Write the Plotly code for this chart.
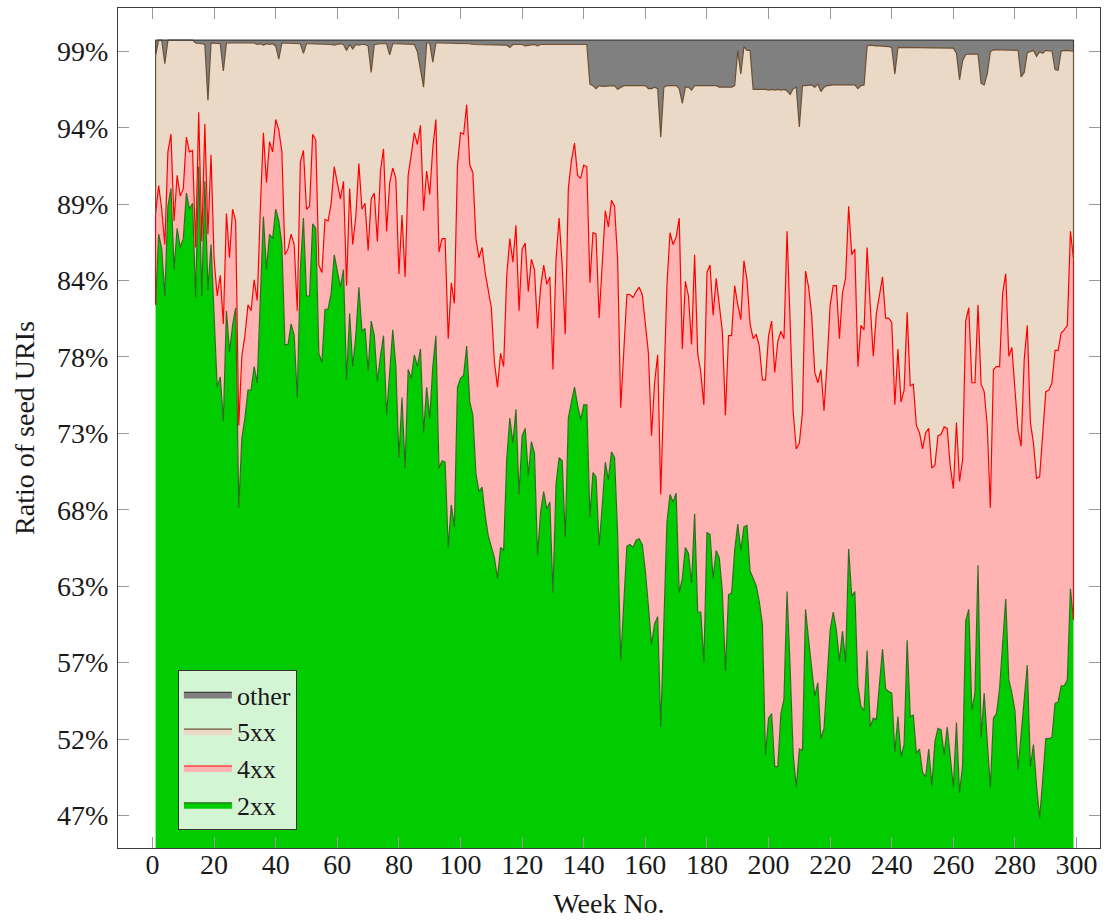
import plotly.graph_objects as go

# ---------------- data (percent of seed URIs, cumulative stack boundaries) ----------------
weeks = list(range(1, 300))

top_2xx = [
    82.0, 86.8, 85.8, 82.6, 88.7, 89.9, 84.4, 87.2, 85.9, 86.5,
    89.6, 88.5, 88.9, 82.5, 91.4, 82.6, 90.4, 83.0, 86.1, 80.6,
    76.4, 77.1, 74.1, 81.6, 78.8, 80.6, 81.8, 68.2, 72.9, 74.3,
    76.2, 76.2, 77.8, 76.7, 82.3, 88.0, 84.4, 86.8, 86.5, 88.5,
    87.7, 86.1, 79.3, 79.3, 80.7, 79.9, 75.7, 84.4, 87.9, 82.6,
    82.6, 87.5, 87.2, 78.7, 78.1, 81.7, 81.7, 82.8, 85.4, 84.4,
    83.2, 84.4, 76.9, 81.4, 77.8, 79.9, 83.2, 80.2, 80.4, 77.5,
    80.9, 79.9, 76.8, 78.5, 79.9, 74.5, 77.8, 80.3, 77.8, 71.6,
    75.7, 70.9, 77.6, 77.0, 78.6, 77.8, 79.0, 73.3, 76.4, 74.3,
    77.8, 79.9, 70.9, 71.4, 71.3, 65.5, 68.4, 66.9, 76.4, 77.0,
    77.2, 79.2, 75.4, 74.5, 70.5, 69.3, 69.6, 67.7, 66.3, 65.6,
    64.8, 63.4, 65.5, 65.3, 71.5, 74.3, 72.6, 74.9, 69.1, 73.1,
    73.6, 70.4, 72.7, 71.9, 65.0, 67.9, 69.3, 68.1, 68.6, 62.4,
    69.8, 71.6, 71.4, 66.2, 74.3, 75.4, 76.4, 75.2, 74.2, 75.2,
    75.2, 67.6, 70.6, 70.3, 65.6, 68.3, 71.3, 70.1, 72.0, 71.6,
    66.5, 57.8, 61.5, 65.6, 65.7, 65.5, 66.0, 66.1, 65.7, 63.9,
    61.5, 58.9, 60.3, 60.8, 53.3, 59.9, 67.2, 69.1, 68.6, 69.2,
    62.4, 63.4, 65.5, 65.1, 63.1, 67.8, 61.1, 61.1, 57.7, 66.5,
    66.4, 63.4, 65.3, 64.8, 62.5, 57.1, 62.3, 62.4, 65.3, 67.1,
    65.3, 66.9, 67.0, 63.9, 63.4, 62.9, 61.8, 60.3, 51.4, 53.9,
    54.2, 50.6, 50.6, 54.2, 55.2, 62.5, 57.3, 51.4, 49.2, 51.8,
    51.7, 61.3, 59.2, 57.5, 55.4, 56.3, 52.5, 53.2, 57.0, 59.9,
    61.1, 59.9, 57.8, 59.8, 57.7, 65.4, 62.2, 62.5, 56.1, 54.7,
    54.4, 58.5, 53.3, 53.9, 53.8, 56.1, 58.6, 55.9, 55.7, 55.6,
    51.6, 54.0, 51.3, 52.1, 59.2, 54.0, 54.1, 51.5, 51.8, 50.2,
    49.9, 51.8, 49.3, 52.3, 53.2, 53.1, 51.4, 53.3, 51.4, 49.2,
    53.6, 48.8, 50.7, 60.5, 61.3, 54.4, 55.6, 64.3, 52.6, 55.6,
    52.3, 49.2, 53.9, 54.2, 55.9, 59.1, 62.0, 56.5, 55.6, 54.4,
    50.4, 52.8, 54.9, 57.5, 50.6, 52.1, 49.3, 47.1, 49.7, 52.5,
    52.5, 52.6, 54.9, 55.0, 56.1, 56.1, 56.5, 62.7, 60.6,
]

top_4xx = [
    88.2, 90.1, 88.5, 86.1, 92.4, 93.6, 87.7, 90.8, 89.4, 89.9,
    93.4, 92.4, 92.5, 85.9, 95.1, 86.3, 94.3, 86.8, 92.2, 85.1,
    82.6, 84.0, 80.7, 88.2, 85.2, 88.5, 87.7, 73.8, 78.5, 79.9,
    82.0, 81.6, 83.7, 82.3, 88.5, 93.7, 90.3, 93.1, 92.4, 94.6,
    93.9, 92.4, 85.4, 85.8, 86.8, 86.1, 81.6, 91.7, 92.5, 88.5,
    88.7, 93.6, 93.2, 84.7, 84.2, 87.8, 87.7, 88.9, 91.4, 90.3,
    89.2, 90.4, 83.3, 89.9, 86.1, 88.0, 91.6, 88.5, 88.9, 85.7,
    89.2, 89.6, 86.3, 91.1, 92.6, 87.0, 90.3, 91.3, 90.6, 84.1,
    88.1, 83.9, 90.8, 92.2, 93.7, 92.9, 94.2, 88.4, 91.1, 89.5,
    92.7, 94.6, 85.6, 86.5, 86.5, 79.7, 83.5, 82.1, 91.5, 93.7,
    93.6, 95.6, 91.5, 91.0, 86.5, 85.2, 85.9, 84.2, 83.0, 81.8,
    78.1, 76.4, 78.7, 77.8, 84.0, 86.5, 84.9, 87.4, 81.6, 85.8,
    86.2, 82.9, 85.1, 84.4, 80.4, 83.2, 84.7, 83.4, 83.9, 77.6,
    85.1, 87.9, 84.7, 80.0, 89.9, 91.8, 93.0, 90.8, 90.6, 91.5,
    91.4, 83.5, 86.9, 86.8, 81.1, 85.1, 88.4, 87.3, 89.1, 88.7,
    85.1, 75.0, 79.2, 82.7, 82.7, 82.5, 82.9, 83.2, 82.7, 80.9,
    78.7, 73.1, 76.7, 78.6, 69.1, 76.2, 83.3, 86.9, 86.1, 86.6,
    87.9, 79.0, 83.6, 82.6, 79.3, 85.4, 78.7, 77.4, 75.2, 84.2,
    84.7, 81.3, 83.8, 82.0, 80.2, 74.5, 79.9, 79.9, 83.3, 82.0,
    81.0, 85.0, 83.7, 80.7, 79.7, 80.0, 79.2, 76.9, 76.9, 79.9,
    80.9, 77.4, 79.5, 80.2, 79.7, 87.0, 81.3, 74.7, 72.2, 72.6,
    74.7, 84.3, 83.2, 81.3, 77.4, 76.7, 77.6, 74.8, 78.1, 82.0,
    83.3, 83.3, 79.7, 82.8, 83.8, 88.7, 85.4, 85.8, 77.8, 80.6,
    80.3, 85.9, 82.0, 78.5, 81.4, 82.6, 83.9, 81.1, 81.1, 80.8,
    75.2, 79.0, 75.4, 76.2, 81.5, 76.5, 76.6, 73.8, 73.3, 72.2,
    73.3, 73.6, 70.9, 71.1, 73.1, 73.2, 73.7, 73.6, 71.0, 69.5,
    74.0, 70.0, 71.5, 80.9, 81.8, 76.7, 76.7, 82.0, 76.6, 76.1,
    73.8, 68.2, 77.6, 77.8, 77.8, 82.8, 84.1, 78.5, 79.1, 76.2,
    73.5, 72.4, 78.3, 80.6, 74.0, 72.6, 70.2, 70.3, 73.3, 76.1,
    76.2, 76.7, 78.9, 78.9, 80.1, 80.3, 80.6, 87.0, 85.1,
]

top_5xx = [
    99.0, 100.0, 100.0, 98.4, 100.0, 100.0, 100.0, 100.0, 100.0, 100.0,
    100.0, 100.0, 100.0, 99.8, 99.8, 99.75, 99.7, 95.9, 99.8, 99.8,
    99.8, 99.75, 97.9, 99.8, 99.8, 99.8, 99.8, 99.8, 99.8, 99.8,
    99.8, 99.8, 99.8, 99.7, 99.75, 99.65, 99.75, 99.7, 99.75, 99.6,
    98.7, 99.8, 99.8, 99.8, 99.8, 99.8, 99.8, 99.75, 99.1, 99.75,
    99.75, 99.75, 99.75, 99.75, 99.7, 99.7, 99.75, 99.7, 99.65, 99.7,
    99.75, 99.7, 99.3, 99.7, 99.4, 99.7, 99.65, 99.7, 99.7, 99.6,
    97.8, 99.7, 99.75, 99.75, 99.75, 99.75, 99.0, 99.75, 99.75, 99.75,
    99.75, 99.75, 99.75, 99.75, 99.7, 99.2, 98.0, 96.8, 99.8, 99.8,
    98.5, 99.8, 99.8, 99.8, 99.8, 99.8, 99.8, 99.75, 99.75, 99.75,
    99.75, 99.75, 99.75, 99.7, 99.7, 99.7, 99.7, 99.7, 99.7, 99.7,
    99.7, 99.7, 99.7, 99.7, 99.65, 99.5, 99.7, 99.7, 99.7, 99.7,
    99.6, 99.65, 99.7, 99.7, 99.6, 99.7, 99.7, 99.7, 99.7, 99.7,
    99.7, 99.7, 99.7, 99.7, 99.7, 99.7, 99.75, 99.75, 99.75, 99.75,
    99.7, 97.0, 96.9, 96.7, 96.9, 96.85, 96.85, 96.85, 96.85, 96.9,
    96.65, 96.8, 96.9, 96.9, 96.9, 96.9, 96.9, 96.9, 96.9, 96.9,
    96.7, 96.7, 96.8, 96.7, 93.4, 96.8, 96.9, 96.9, 96.9, 96.9,
    96.7, 95.7, 96.8, 96.8, 96.6, 96.9, 96.9, 96.9, 96.9, 96.9,
    96.9, 96.9, 96.9, 96.8, 96.8, 96.8, 96.8, 96.8, 96.9, 99.3,
    97.7, 99.55, 99.3, 99.3, 96.65, 96.65, 96.7, 96.7, 96.65, 96.6,
    96.65, 96.6, 96.65, 96.6, 96.65, 96.55, 96.3, 96.7, 96.8, 94.1,
    96.9, 96.9, 96.95, 96.95, 96.8, 97.0, 96.5, 96.8, 96.9, 96.95,
    96.95, 96.95, 96.95, 96.95, 96.95, 96.95, 96.95, 96.95, 96.7, 96.9,
    96.95, 99.6, 99.65, 99.6, 99.6, 99.6, 99.6, 99.6, 99.55, 99.5,
    97.7, 99.5, 99.5, 99.5, 99.5, 99.5, 99.5, 99.5, 99.5, 99.5,
    99.5, 99.5, 99.5, 99.5, 99.5, 99.5, 99.5, 99.5, 99.5, 99.45,
    99.1, 97.3, 98.6, 99.0, 99.05, 99.05, 99.05, 99.05, 97.05, 96.95,
    97.7, 99.2, 99.35, 99.35, 99.35, 99.35, 99.35, 99.35, 99.3, 99.3,
    99.3, 97.5, 97.8, 99.15, 99.2, 99.3, 98.9, 99.2, 99.1, 99.3,
    99.27, 99.27, 98.0, 97.95, 99.27, 99.3, 99.3, 99.27, 99.25,
]

total = 100.0
top_other = [total] * len(weeks)

series_names = ["2xx", "4xx", "5xx", "other"]

ytick_values = [47.28, 52.48, 57.67, 62.87, 68.06, 73.26, 78.46, 83.65, 88.85, 94.04, 99.24]
ytick_labels = ["47%", "52%", "57%", "63%", "68%", "73%", "78%", "84%", "89%", "94%", "99%"]
xtick_values = list(range(0, 301, 20))

# ---------------- styles ----------------
FONT = "Liberation Serif"
fills = ["#00cc00", "#ffb3b3", "#ead9c6", "#808080"]
lines = ["#2d6e1e", "#ff0000", "#6e5030", "#404040"]

fig = go.Figure()
tops = [top_2xx, top_4xx, top_5xx, top_other]
for i, (name, ys) in enumerate(zip(series_names, tops)):
    fig.add_trace(go.Scatter(
        x=weeks, y=ys, name=name, mode="lines",
        line=dict(color=lines[i], width=1.2),
        fill="tozeroy" if i == 0 else "tonexty",
        fillcolor=fills[i],
        legendgroup=name,
    ))

# closing vertical edges of the stacked areas at both ends (as pgfplots draws them)
lower = [None, top_2xx, top_4xx, top_5xx]
for i in range(1, 4):
    for idx in (0, -1):
        fig.add_trace(go.Scatter(
            x=[weeks[idx], weeks[idx]], y=[lower[i][idx], tops[i][idx]],
            mode="lines", line=dict(color=lines[i], width=1.2),
            showlegend=False, hoverinfo="skip",
        ))

axis_common = dict(
    showline=True, linecolor="#3a3a3a", linewidth=1.2, mirror="allticks",
    ticks="inside", ticklen=11, tickwidth=1, tickcolor="#9a9a9a",
    showgrid=False, zeroline=False,
    tickfont=dict(family=FONT, size=28, color="#1a1a1a"),
)

fig.update_layout(
    width=1114, height=923,
    margin=dict(l=118, r=14, t=8, b=75),
    paper_bgcolor="white", plot_bgcolor="white",
    font=dict(family=FONT, size=28, color="#1a1a1a"),
    xaxis=dict(
        range=[-11.2, 307.6], tickvals=xtick_values,
        title=dict(text="Week No.", font=dict(family=FONT, size=28), standoff=14),
        ticklabelstandoff=-9,
        **axis_common,
    ),
    yaxis=dict(
        range=[45.07, 102.18], tickvals=ytick_values, ticktext=ytick_labels,
        title=dict(text="Ratio of seed URIs", font=dict(family=FONT, size=28), standoff=14),
        ticklabelstandoff=3,
        **axis_common,
    ),
    legend=dict(
        x=0.061, y=0.0214, xanchor="left", yanchor="bottom",
        bgcolor="#d4f5d4", bordercolor="#333333", borderwidth=1,
        font=dict(family=FONT, size=26, color="#1a1a1a"),
        traceorder="reversed", itemwidth=48, tracegroupgap=0,
    ),
    showlegend=True,
)

fig.write_html("out.html")
